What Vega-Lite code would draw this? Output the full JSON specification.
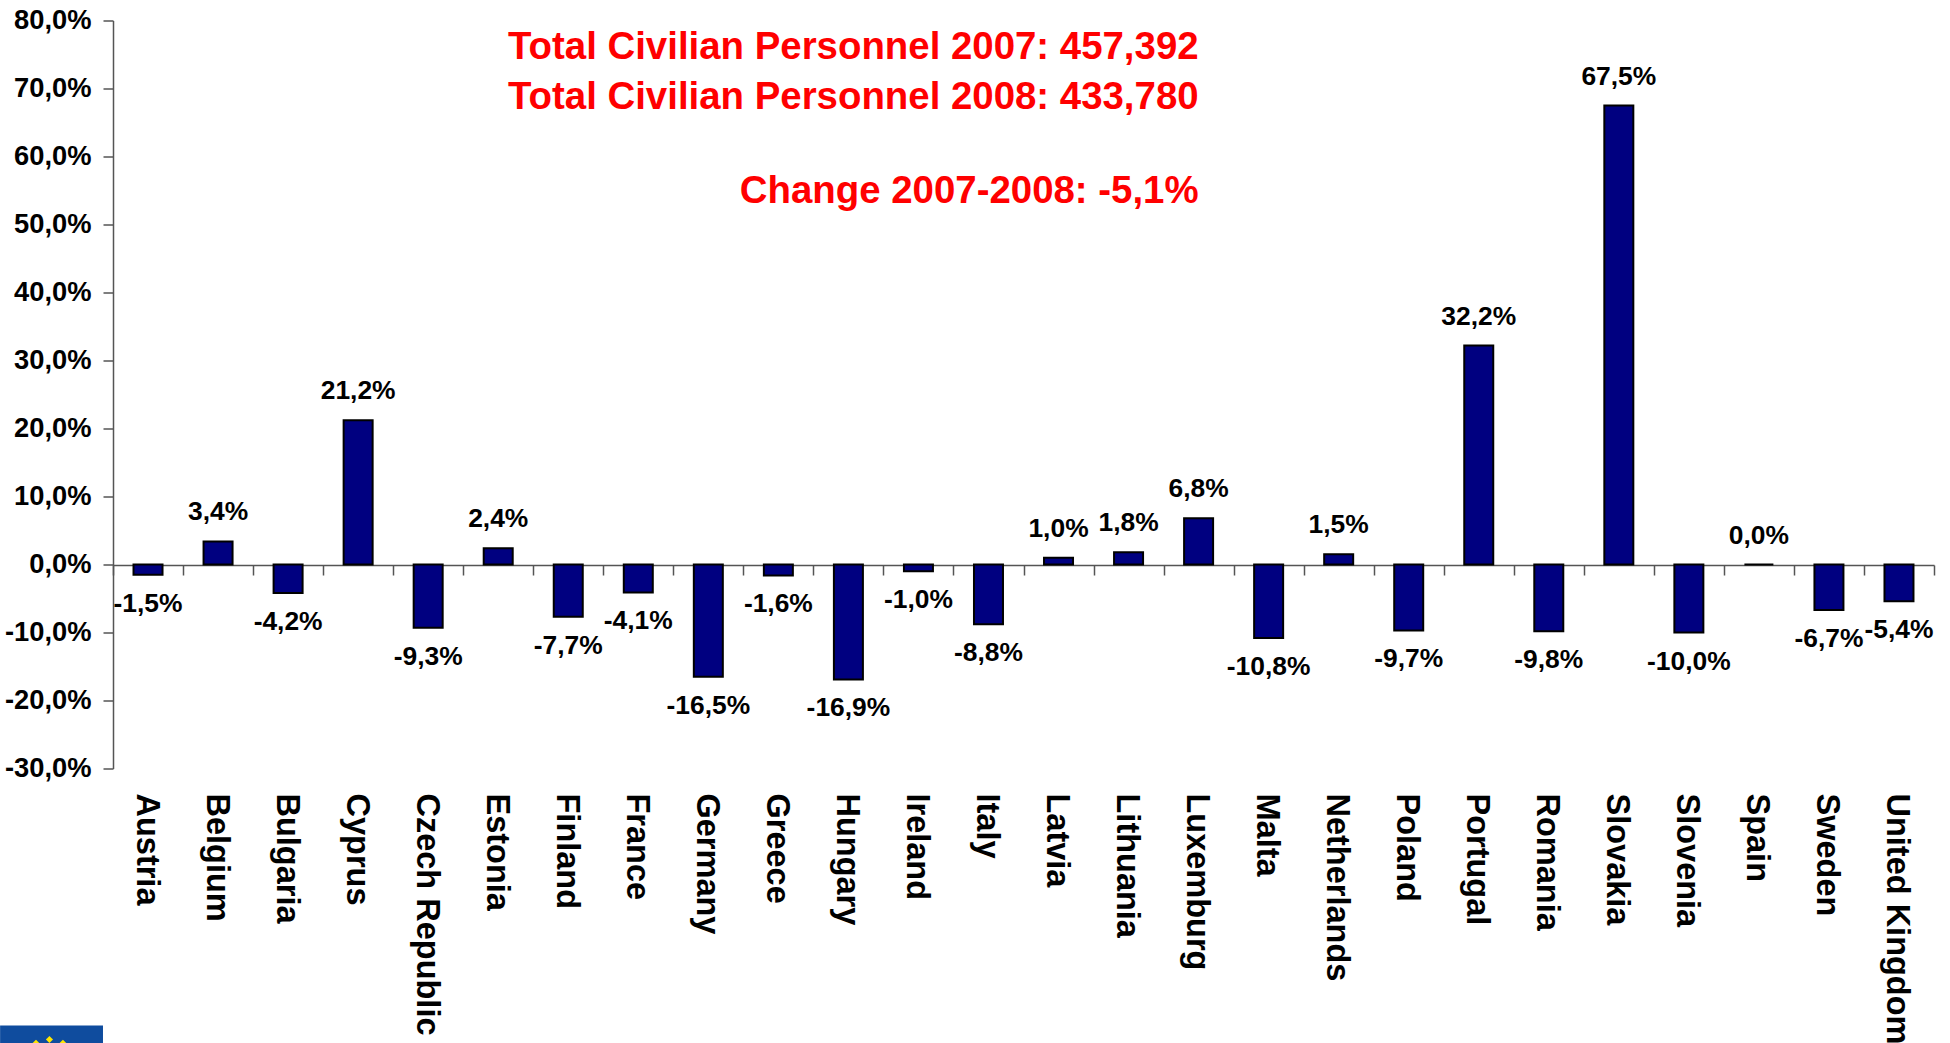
{
"$schema":"https://vega.github.io/schema/vega-lite/v6.json",
"autosize":{"type":"none"},
"padding":{"left":113,"top":20.5,"right":16,"bottom":274.5},
"width":1821,"height":748,
"background":"white",
"config":{"view":{"stroke":null},"locale":{"number":{"decimal":",","thousands":".","grouping":[3],"currency":["","€"],"minus":"-"}},"font":"Liberation Sans"},
"datasets":{
"bars":[
{"country":"Austria","change":-0.015},{"country":"Belgium","change":0.034},{"country":"Bulgaria","change":-0.042},{"country":"Cyprus","change":0.212},{"country":"Czech Republic","change":-0.093},{"country":"Estonia","change":0.024},{"country":"Finland","change":-0.077},{"country":"France","change":-0.041},{"country":"Germany","change":-0.165},{"country":"Greece","change":-0.016},{"country":"Hungary","change":-0.169},{"country":"Ireland","change":-0.01},{"country":"Italy","change":-0.088},{"country":"Latvia","change":0.01},{"country":"Lithuania","change":0.018},{"country":"Luxemburg","change":0.068},{"country":"Malta","change":-0.108},{"country":"Netherlands","change":0.015},{"country":"Poland","change":-0.097},{"country":"Portugal","change":0.322},{"country":"Romania","change":-0.098},{"country":"Slovakia","change":0.675},{"country":"Slovenia","change":-0.10},{"country":"Spain","change":0.0},{"country":"Sweden","change":-0.067},{"country":"United Kingdom","change":-0.054}
],
"notes":[
{"country":"Luxemburg","y":0.761,"text":"Total Civilian Personnel 2007: 457,392"},
{"country":"Luxemburg","y":0.688,"text":"Total Civilian Personnel 2008: 433,780"},
{"country":"Luxemburg","y":0.549,"text":"Change 2007-2008: -5,1%"}
],
"logo":[{"a":-0.062,"b":-0.0055,"top":-0.678,"bottom":-0.71}],
"stars":[{"a":-0.0349,"y":-0.6985},{"a":-0.0423,"y":-0.704},{"a":-0.0275,"y":-0.704}]
},
"resolve":{"scale":{"x":"independent"}},
"layer":[
{"data":{"name":"bars"},
"layer":[
{"mark":{"type":"bar","width":29,"fill":"#000080","stroke":"#000000","strokeWidth":2},
"encoding":{
"x":{"field":"country","type":"nominal","sort":null,"title":null,
"scale":{"paddingInner":0,"paddingOuter":0},
"axis":{"orient":"bottom","offset":-203.5,"labelPadding":218,"labelOffset":-2,"tickBand":"extent","tickSize":10,"tickColor":"#555555","domainColor":"#555555","domainWidth":1.5,"tickWidth":1.5,"labelAngle":90,"labelAlign":"left","labelBaseline":"middle","labelFont":"Liberation Sans","labelFontWeight":"bold","labelFontSize":32.5,"labelColor":"#000000","labelOverlap":false,"labelLimit":400,"labelBound":false,"labelFlush":false}},
"y":{"field":"change","type":"quantitative","title":null,
"scale":{"domain":[-0.3,0.8],"nice":false,"zero":false},
"axis":{"values":[-0.3,-0.2,-0.1,0,0.1,0.2,0.3,0.4,0.5,0.6,0.7,0.8],"format":".1%","grid":false,"tickSize":10,"tickColor":"#555555","domainColor":"#555555","domainWidth":1.5,"tickWidth":1.5,"labelPadding":12,"labelFont":"Liberation Sans","labelFontWeight":"bold","labelFontSize":27.3,"labelColor":"#000000"}}
}},
{"transform":[{"filter":"datum.change>=0"}],
"mark":{"type":"text","dy":-29,"font":"Liberation Sans","fontWeight":"bold","fontSize":26.4,"color":"#000000","baseline":"middle"},
"encoding":{"x":{"field":"country","type":"nominal","sort":null},"y":{"field":"change","type":"quantitative"},"text":{"field":"change","type":"quantitative","format":".1%"}}},
{"transform":[{"filter":"datum.change<0"}],
"mark":{"type":"text","dy":29,"font":"Liberation Sans","fontWeight":"bold","fontSize":26.4,"color":"#000000","baseline":"middle"},
"encoding":{"x":{"field":"country","type":"nominal","sort":null},"y":{"field":"change","type":"quantitative"},"text":{"field":"change","type":"quantitative","format":".1%"}}},
{"data":{"name":"notes"},
"mark":{"type":"text","align":"right","baseline":"middle","font":"Liberation Sans","fontWeight":"bold","fontSize":38.4,"color":"#ff0000"},
"encoding":{"x":{"field":"country","type":"nominal","sort":null},"y":{"field":"y","type":"quantitative"},"text":{"field":"text"}}}
]},
{"layer":[
{"data":{"name":"logo"},
"mark":{"type":"rect","fill":"#0f4c9e"},
"encoding":{
"x":{"field":"a","type":"quantitative","scale":{"domain":[0,1],"nice":false,"zero":false},"axis":null},
"x2":{"field":"b"},
"y":{"field":"top","type":"quantitative"},
"y2":{"field":"bottom"}}},
{"data":{"name":"stars"},
"mark":{"type":"point","shape":"diamond","filled":true,"fill":"#ffe600","opacity":1,"size":50},
"encoding":{
"x":{"field":"a","type":"quantitative","scale":{"domain":[0,1],"nice":false,"zero":false},"axis":null},
"y":{"field":"y","type":"quantitative"}}}
]}
]
}
